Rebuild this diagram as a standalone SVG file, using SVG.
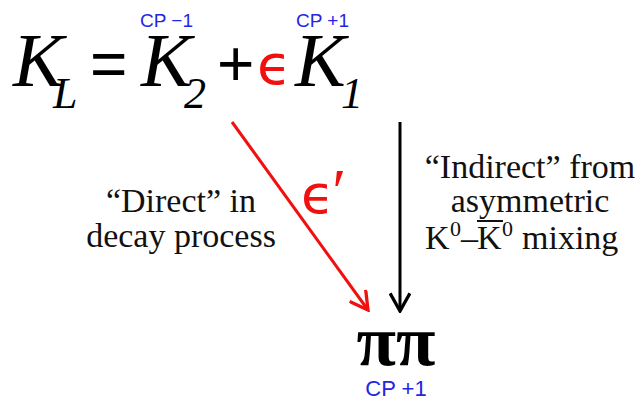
<svg xmlns="http://www.w3.org/2000/svg" width="642" height="401" viewBox="0 0 642 401">
<defs>
<style>
.mathk{font-family:"Liberation Serif",serif;font-style:italic;fill:#000}
.sym{font-family:"Liberation Sans",sans-serif;fill:#000}
.cp{font-family:"Liberation Sans",sans-serif;fill:#2424e6}
.lbl{font-family:"Liberation Serif",serif;font-size:34px;fill:#111;text-anchor:middle}
.lbs{font-family:"Liberation Serif",serif;font-size:34px;fill:#111}
.sup{font-family:"Liberation Serif",serif;font-size:22px;fill:#111}
.eps{font-family:"DejaVu Sans",sans-serif;fill:#f01010}
</style>
<marker id="ahr" viewBox="0 0 20 20" refX="18" refY="10" markerWidth="22" markerHeight="22" markerUnits="userSpaceOnUse" orient="auto">
<path d="M2,1 L18,10 L2,19" fill="none" stroke="#f01010" stroke-width="3"/>
</marker>
<marker id="ahk" viewBox="0 0 20 20" refX="18" refY="10" markerWidth="22" markerHeight="22" markerUnits="userSpaceOnUse" orient="auto">
<path d="M2,1 L18,10 L2,19" fill="none" stroke="#000" stroke-width="3"/>
</marker>
</defs>
<rect width="642" height="401" fill="#fff"/>
<g id="equation">
<text class="mathk" x="13" y="86" font-size="76">K</text>
<text class="mathk" x="53" y="108" font-size="44">L</text>
<text class="sym" x="90" y="86" font-size="64">=</text>
<text class="mathk" x="141" y="86" font-size="76">K</text>
<text class="mathk" x="184" y="108" font-size="44">2</text>
<text class="sym" x="217" y="86" font-size="64">+</text>
<text class="eps" x="257" y="84" font-size="56">ϵ</text>
<text class="mathk" x="295" y="86" font-size="76">K</text>
<text class="mathk" x="341" y="108" font-size="44">1</text>
</g>
<g id="cp-k2"><text class="cp" x="140" y="27" font-size="19">CP −1</text></g>
<g id="cp-k1"><text class="cp" x="296" y="27" font-size="19">CP +1</text></g>
<g id="connectors">
<line x1="232" y1="122" x2="368" y2="310" stroke="#f01010" stroke-width="3" marker-end="url(#ahr)"/>
<line x1="400" y1="122" x2="400" y2="311" stroke="#000" stroke-width="3" marker-end="url(#ahk)"/>
</g>
<g id="eps-prime"><text class="eps" x="301" y="213" font-size="54">ϵ<tspan font-family="Liberation Serif,serif" font-size="64" dx="-2">′</tspan></text></g>
<g id="direct-label">
<text class="lbl" x="181" y="212">“Direct” in</text>
<text class="lbl" x="181" y="247">decay process</text>
</g>
<g id="indirect-label">
<text class="lbl" x="530" y="178">“Indirect” from</text>
<text class="lbl" x="530" y="212">asymmetric</text>
<text class="lbs" x="425" y="249">K</text>
<text class="sup" x="450" y="236">0</text>
<text class="lbs" x="461" y="249">–</text>
<text class="lbs" x="477" y="249">K</text>
<text class="sup" x="502" y="236">0</text>
<text class="lbs" x="522" y="249">mixing</text>
<line x1="477" y1="221" x2="503" y2="221" stroke="#111" stroke-width="2"/>
</g>
<g id="pipi">
<text x="396" y="365" font-family="Liberation Serif,serif" font-size="72" font-weight="bold" text-anchor="middle" fill="#000">ππ</text>
<text class="cp" x="396" y="396" font-size="22" text-anchor="middle">CP +1</text>
</g>
</svg>
